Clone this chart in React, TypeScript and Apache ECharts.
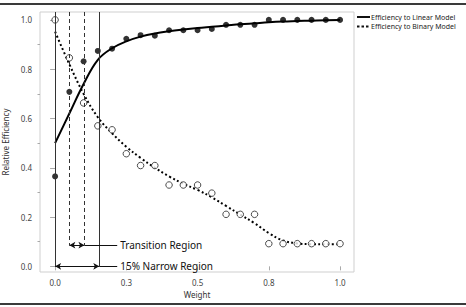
import React, { useEffect, useRef } from "react";
import * as echarts from "echarts";

const weights = [0, 0.05, 0.1, 0.15, 0.2, 0.25, 0.3, 0.35, 0.4, 0.45, 0.5, 0.55, 0.6, 0.65, 0.7, 0.75, 0.8, 0.85, 0.9, 0.95, 1.0];
const linearEff = [0.365, 0.708, 0.832, 0.874, 0.883, 0.923, 0.938, 0.936, 0.958, 0.958, 0.958, 0.963, 0.98, 0.98, 0.98, 1.0, 1.0, 1.0, 1.0, 1.0, 1.0];
const binaryEff = [1.0, 0.846, 0.663, 0.57, 0.554, 0.457, 0.409, 0.409, 0.33, 0.33, 0.33, 0.297, 0.211, 0.211, 0.211, 0.092, 0.092, 0.092, 0.092, 0.092, 0.092];
const linearFit = [0.5, 0.62, 0.74, 0.838, 0.885, 0.913, 0.932, 0.945, 0.954, 0.961, 0.967, 0.972, 0.977, 0.982, 0.986, 0.99, 0.993, 0.995, 0.997, 0.999, 1.0];
const binaryFit = [0.952, 0.82, 0.7, 0.605, 0.54, 0.485, 0.44, 0.4, 0.365, 0.335, 0.31, 0.28, 0.245, 0.21, 0.175, 0.135, 0.105, 0.093, 0.09, 0.09, 0.09];

const xTickValues = [0, 0.25, 0.5, 0.75, 1.0];
const xTickLabels = ["0.0", "0.3", "0.5", "0.8", "1.0"];
const yTickValues = [0, 0.2, 0.4, 0.6, 0.8, 1.0];
const yTickLabels = ["0.0", "0.2", "0.4", "0.6", "0.8", "1.0"];
const yMinorTicks = [0.1, 0.3, 0.5, 0.7, 0.9];

const narrowBounds = [0, 0.155];
const transitionBounds = [0.05, 0.103];
const narrowArrowY = 0;
const transitionArrowY = 0.086;
const labelLineEnd = 0.218;
const seriesNames = ["Efficiency to Linear Model", "Efficiency to Binary Model"];
const regionLabels = ["Transition Region", "15% Narrow Region"];

const X_MIN = -0.053;
const X_MAX = 1.049;
const Y_MIN = -0.023;
const Y_MAX = 1.032;

const FONT = "Noto Sans";

export default function App() {
  const ref = useRef<HTMLDivElement>(null);
  useEffect(() => {
    if (!ref.current) return;
    const chart = echarts.init(ref.current, undefined, { renderer: "svg" });
    const pts = (ys: number[]) => weights.map((w, i) => [w, ys[i]]);
    const option: any = {
      animation: false,
      backgroundColor: "#ffffff",
      grid: {
        left: 40,
        top: 12,
        right: 112,
        bottom: 35,
        containLabel: false,
        outerBoundsMode: "none",
        show: true,
        borderColor: "#cfcfcf",
        borderWidth: 1,
        backgroundColor: "transparent",
      },
      xAxis: {
        type: "value",
        min: X_MIN,
        max: X_MAX,
        name: "Weight",
        nameLocation: "middle",
        nameGap: 17,
        nameTextStyle: { fontFamily: FONT, fontSize: 8, color: "#333" },
        axisLine: { show: false },
        splitLine: { show: false },
        axisTick: {
          show: true,
          customValues: xTickValues,
          length: 4,
          lineStyle: { color: "#aaa" },
        },
        axisLabel: {
          customValues: xTickValues,
          formatter: (v: number) => xTickLabels[xTickValues.findIndex((t) => Math.abs(t - v) < 1e-6)] ?? "",
          fontFamily: FONT,
          fontSize: 8,
          color: "#444",
          margin: 6,
        },
      },
      yAxis: [
        {
          type: "value",
          min: Y_MIN,
          max: Y_MAX,
          name: "Relative Efficiency",
          nameLocation: "middle",
          nameGap: 25,
          nameTextStyle: { fontFamily: FONT, fontSize: 8, color: "#333" },
          axisLine: { show: false },
          splitLine: { show: false },
          axisTick: {
            show: true,
            customValues: yTickValues,
            length: 5,
            lineStyle: { color: "#aaa" },
          },
          axisLabel: {
            customValues: yTickValues,
            formatter: (v: number) => yTickLabels[yTickValues.findIndex((t) => Math.abs(t - v) < 1e-6)] ?? "",
            fontFamily: FONT,
            fontSize: 8,
            color: "#444",
            margin: 8,
          },
        },
        {
          type: "value",
          min: Y_MIN,
          max: Y_MAX,
          position: "left",
          axisLine: { show: false },
          splitLine: { show: false },
          axisLabel: { show: false },
          axisTick: {
            show: true,
            customValues: yMinorTicks,
            length: 2.5,
            lineStyle: { color: "#aaa" },
          },
        },
      ],
      series: [
        {
          type: "line",
          data: [],
          silent: true,
          z: 1,
          markLine: {
            silent: true,
            symbol: ["none", "none"],
            label: { show: false },
            animation: false,
            data: [
              [
                { coord: [narrowBounds[0], Y_MAX], lineStyle: { color: "#333", width: 1, type: "solid" } },
                { coord: [narrowBounds[0], narrowArrowY] },
              ],
              [
                { coord: [narrowBounds[1], Y_MAX], lineStyle: { color: "#333", width: 1, type: "solid" } },
                { coord: [narrowBounds[1], narrowArrowY] },
              ],
              [
                { coord: [transitionBounds[0], Y_MAX], lineStyle: { color: "#333", width: 1, type: [4, 3] } },
                { coord: [transitionBounds[0], transitionArrowY] },
              ],
              [
                { coord: [transitionBounds[1], Y_MAX], lineStyle: { color: "#333", width: 1, type: [4, 3] } },
                { coord: [transitionBounds[1], transitionArrowY] },
              ],
            ],
          },
        },
        {
          type: "line",
          data: [],
          silent: true,
          z: 1,
          markLine: {
            silent: true,
            symbol: ["arrow", "arrow"],
            symbolSize: [5, 6],
            label: { show: false },
            lineStyle: { color: "#111", width: 1, type: "solid" },
            data: [
              [{ coord: [narrowBounds[0], narrowArrowY] }, { coord: [narrowBounds[1], narrowArrowY] }],
              [{ coord: [transitionBounds[0], transitionArrowY] }, { coord: [transitionBounds[1], transitionArrowY] }],
            ],
          },
        },
        {
          type: "line",
          data: [],
          silent: true,
          z: 1,
          markLine: {
            silent: true,
            symbol: ["none", "none"],
            lineStyle: { color: "#111", width: 1, type: "solid" },
            label: {
              show: true,
              position: "end",
              distance: 3,
              fontFamily: FONT,
              fontSize: 10,
              color: "#111",
            },
            data: [
              [
                { coord: [transitionBounds[1], transitionArrowY], label: { formatter: regionLabels[0] } },
                { coord: [labelLineEnd, transitionArrowY] },
              ],
              [
                { coord: [narrowBounds[1], narrowArrowY], label: { formatter: regionLabels[1] } },
                { coord: [labelLineEnd, narrowArrowY] },
              ],
            ],
          },
        },
        {
          name: seriesNames[0] + " fit",
          type: "line",
          smooth: 0.4,
          showSymbol: false,
          data: pts(linearFit),
          lineStyle: { color: "#000", width: 2 },
          z: 3,
        },
        {
          name: seriesNames[1] + " fit",
          type: "line",
          smooth: 0.4,
          showSymbol: false,
          data: pts(binaryFit),
          lineStyle: { color: "#000", width: 2, type: [2, 2.5] },
          z: 3,
        },
        {
          name: seriesNames[0],
          type: "scatter",
          symbol: "circle",
          symbolSize: 6,
          data: pts(linearEff),
          itemStyle: { color: "#000" },
          z: 4,
        },
        {
          name: seriesNames[1],
          type: "scatter",
          symbol: "circle",
          symbolSize: 6.5,
          data: pts(binaryEff),
          itemStyle: { color: "#fff", borderColor: "#222", borderWidth: 1 },
          z: 4,
        },
      ],
      graphic: [
        { type: "rect", shape: { x: 0, y: 3, width: 466, height: 2 }, style: { fill: "#3a3a3a" }, silent: true },
        { type: "rect", shape: { x: 0, y: 303, width: 466, height: 2 }, style: { fill: "#3a3a3a" }, silent: true },
        { type: "line", shape: { x1: 357, y1: 17, x2: 370, y2: 17 }, style: { stroke: "#111", lineWidth: 2 } },
        { type: "line", shape: { x1: 357, y1: 26.5, x2: 370, y2: 26.5 }, style: { stroke: "#111", lineWidth: 2, lineDash: [2.5, 2] } },
        {
          type: "text",
          x: 371,
          y: 17,
          style: { text: seriesNames[0], fontFamily: FONT, fontSize: 7, lineHeight: 7, fill: "#222", verticalAlign: "middle" },
        },
        {
          type: "text",
          x: 371,
          y: 26.5,
          style: { text: seriesNames[1], fontFamily: FONT, fontSize: 7, lineHeight: 7, fill: "#222", verticalAlign: "middle" },
        },
      ],
    };
    chart.setOption(option);
    return () => chart.dispose();
  }, []);
  return (
    <div
      ref={ref}
      style={{ position: "fixed", left: 0, top: 0, width: 466, height: 307, background: "#fff" }}
    />
  );
}
